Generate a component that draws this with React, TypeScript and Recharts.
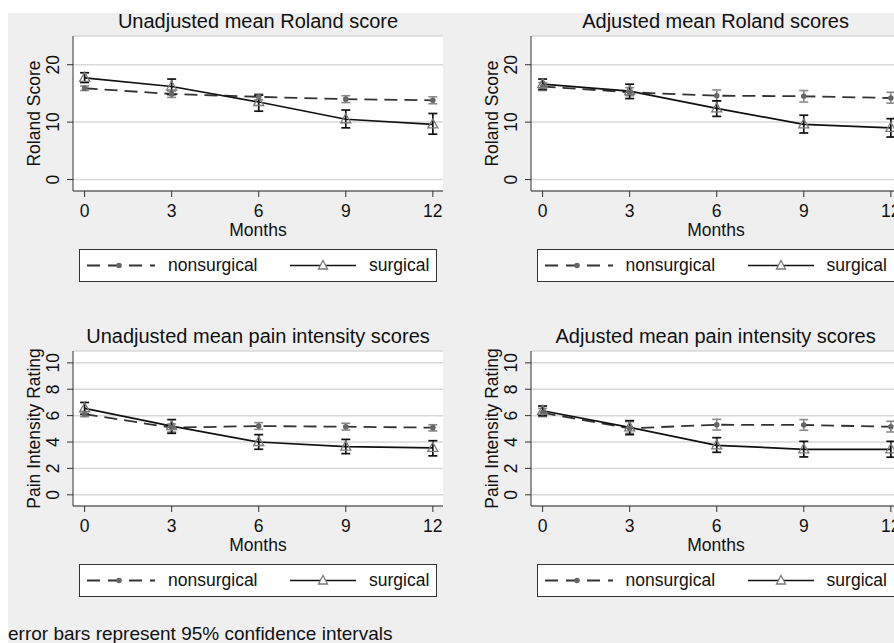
import React from "react";
import { CartesianGrid, ErrorBar, Line, LineChart, XAxis, YAxis } from "recharts";

const months = [0, 3, 6, 9, 12];
const monthTicks = [0, 3, 6, 9, 12];
const rolandTicks = [0, 10, 20];
const painTicks = [0, 2, 4, 6, 8, 10];

// Unadjusted Roland score
const rolUnNon = [15.9, 14.9, 14.4, 14.0, 13.8];
const rolUnNonLo = [15.5, 14.3, 13.9, 13.4, 13.2];
const rolUnNonHi = [16.3, 15.4, 14.9, 14.6, 14.4];
const rolUnSur = [17.7, 16.2, 13.5, 10.5, 9.6];
const rolUnSurLo = [16.9, 14.8, 11.9, 9.0, 7.9];
const rolUnSurHi = [18.6, 17.5, 14.7, 12.1, 11.5];

// Adjusted Roland scores
const rolAdNon = [16.2, 15.2, 14.6, 14.5, 14.2];
const rolAdNonLo = [15.5, 14.6, 13.7, 13.5, 13.3];
const rolAdNonHi = [16.9, 16.0, 15.6, 15.5, 15.2];
const rolAdSur = [16.6, 15.4, 12.4, 9.6, 9.0];
const rolAdSurLo = [15.7, 14.1, 11.0, 8.1, 7.4];
const rolAdSurHi = [17.5, 16.6, 13.7, 11.2, 10.6];

// Unadjusted pain intensity
const painUnNon = [6.12, 5.09, 5.21, 5.16, 5.09];
const painUnNonLo = [5.92, 4.76, 4.96, 4.91, 4.84];
const painUnNonHi = [6.32, 5.37, 5.47, 5.42, 5.31];
const painUnSur = [6.55, 5.2, 4.0, 3.65, 3.55];
const painUnSurLo = [6.1, 4.66, 3.45, 3.12, 2.95];
const painUnSurHi = [7.0, 5.7, 4.56, 4.2, 4.1];

// Adjusted pain intensity
const painAdNon = [6.22, 5.04, 5.31, 5.29, 5.16];
const painAdNonLo = [5.92, 4.66, 4.91, 4.89, 4.76];
const painAdNonHi = [6.55, 5.54, 5.72, 5.7, 5.57];
const painAdSur = [6.37, 5.11, 3.75, 3.45, 3.45];
const painAdSurLo = [6.0, 4.56, 3.22, 2.87, 2.85];
const painAdSurHi = [6.73, 5.62, 4.33, 4.05, 4.05];

const FONT = '"Liberation Sans", Arial, Helvetica, sans-serif';
const TEXT = "#111";

function buildRows(
  non: number[], nonLo: number[], nonHi: number[],
  sur: number[], surLo: number[], surHi: number[]
) {
  return months.map((m, i) => ({
    month: m,
    nonsurgical: non[i],
    nonErr: [non[i] - nonLo[i], nonHi[i] - non[i]],
    surgical: sur[i],
    surErr: [sur[i] - surLo[i], surHi[i] - sur[i]],
  }));
}

const YTick = (p: any) => (
  <text
    x={p.x}
    y={p.y}
    transform={`rotate(-90 ${p.x} ${p.y})`}
    textAnchor="middle"
    fontSize={17.5}
    fill={TEXT}
  >
    {p.payload.value}
  </text>
);

const TriangleDot = (p: any) => {
  const { cx, cy, index } = p;
  if (cx == null || cy == null) return <g key={index} />;
  return (
    <path
      key={index}
      d={`M${cx},${cy - 5.5} L${cx + 5},${cy + 3.5} L${cx - 5},${cy + 3.5} Z`}
      fill="none"
      stroke="#7a7a7a"
      strokeWidth={1.3}
    />
  );
};

function LegendBox() {
  return (
    <div
      style={{
        position: "absolute", left: 71, top: 236, width: 358, height: 33,
        border: "1px solid #333", background: "#fff", boxSizing: "border-box",
      }}
    >
      <svg width={68} height={31} style={{ position: "absolute", left: 7, top: 0 }}>
        <line x1={0} y1={15.5} x2={68} y2={15.5} stroke="#333" strokeWidth={1.8} strokeDasharray="13 8" />
        <circle cx={32} cy={15.5} r={2.8} fill="#666" />
      </svg>
      <span style={{ position: "absolute", left: 88, top: 0, lineHeight: "31px", fontSize: 17.5, color: TEXT }}>
        nonsurgical
      </span>
      <svg width={66} height={31} style={{ position: "absolute", left: 210, top: 0 }}>
        <line x1={0} y1={15.5} x2={66} y2={15.5} stroke="#111" strokeWidth={1.6} />
        <path d="M33,10.5 L37.5,19 L28.5,19 Z" fill="#fff" stroke="#7a7a7a" strokeWidth={1.3} />
      </svg>
      <span style={{ position: "absolute", left: 289, top: 0, lineHeight: "31px", fontSize: 17.5, color: TEXT }}>
        surgical
      </span>
    </div>
  );
}

type PanelProps = {
  title: string;
  yLabel: string;
  yDomain: [number, number];
  yTicks: number[];
  rows: ReturnType<typeof buildRows>;
  left: number;
  top: number;
};

function Panel({ title, yLabel, yDomain, yTicks, rows, left, top }: PanelProps) {
  return (
    <div style={{ position: "absolute", left, top, width: 450, height: 315 }}>
      <div
        style={{
          position: "absolute", left: 250, top: 0, transform: "translateX(-50%)",
          whiteSpace: "nowrap", fontSize: 20, lineHeight: "16px", color: TEXT,
        }}
      >
        {title}
      </div>
      <LineChart width={450} height={315} data={rows} margin={{ top: 23, right: 15, bottom: 87, left: 0 }}>
        <CartesianGrid vertical={false} fill="#fff" stroke="#d9d9d9" strokeWidth={1.5} />
        <XAxis
          dataKey="month"
          type="number"
          domain={[-0.4, 12.35]}
          ticks={monthTicks}
          interval={0}
          allowDataOverflow
          height={50}
          tickSize={6}
          tickMargin={8}
          stroke="#333"
          tick={{ fontSize: 17.5, fill: TEXT }}
          label={{ value: "Months", position: "insideBottom", offset: 5.5, fontSize: 17.5, fill: TEXT }}
        />
        <YAxis
          type="number"
          domain={yDomain}
          ticks={yTicks}
          interval={0}
          allowDataOverflow
          width={65}
          tickSize={6}
          tickMargin={8}
          stroke="#333"
          tick={YTick}
          label={{
            content: (props: any) => {
              const vb = props.viewBox || { x: 0, y: 23, height: 155 };
              const x = vb.x + 31.5;
              const y = vb.y + vb.height / 2;
              return (
                <text x={x} y={y} transform={`rotate(-90 ${x} ${y})`} textAnchor="middle" fontSize={17.5} fill={TEXT}>
                  {yLabel}
                </text>
              );
            },
          }}
        />
        <Line
          dataKey="nonsurgical"
          stroke="#333"
          strokeWidth={1.8}
          strokeDasharray="13 7"
          dot={{ r: 2.8, fill: "#666", stroke: "#666", strokeWidth: 0 }}
          activeDot={false}
          isAnimationActive={false}
        >
          <ErrorBar dataKey="nonErr" direction="y" width={4.5} stroke="#8a8a8a" strokeWidth={1.6} />
        </Line>
        <Line
          dataKey="surgical"
          stroke="#111"
          strokeWidth={1.7}
          dot={TriangleDot}
          activeDot={false}
          isAnimationActive={false}
        >
          <ErrorBar dataKey="surErr" direction="y" width={4.5} stroke="#111" strokeWidth={1.7} />
        </Line>
      </LineChart>
      <LegendBox />
    </div>
  );
}

export default function App() {
  const rolUn = buildRows(rolUnNon, rolUnNonLo, rolUnNonHi, rolUnSur, rolUnSurLo, rolUnSurHi);
  const rolAd = buildRows(rolAdNon, rolAdNonLo, rolAdNonHi, rolAdSur, rolAdSurLo, rolAdSurHi);
  const painUn = buildRows(painUnNon, painUnNonLo, painUnNonHi, painUnSur, painUnSurLo, painUnSurHi);
  const painAd = buildRows(painAdNon, painAdNonLo, painAdNonHi, painAdSur, painAdSurLo, painAdSurHi);

  return (
    <div
      style={{
        position: "fixed", left: 0, top: 0, width: 894, height: 643,
        background: "#fff", overflow: "hidden", fontFamily: FONT,
      }}
    >
      <div
        style={{
          position: "absolute", left: 8, top: 13, width: 886, height: 630,
          background: "#efefef",
        }}
      >
        <Panel title="Unadjusted mean Roland score" yLabel="Roland Score" yDomain={[-2, 25]} yTicks={rolandTicks} rows={rolUn} left={0} top={0} />
        <Panel title="Adjusted mean Roland scores" yLabel="Roland Score" yDomain={[-2, 25]} yTicks={rolandTicks} rows={rolAd} left={457.6} top={0} />
        <Panel title="Unadjusted mean pain intensity scores" yLabel="Pain Intensity Rating" yDomain={[-0.85, 10.9]} yTicks={painTicks} rows={painUn} left={0} top={315} />
        <Panel title="Adjusted mean pain intensity scores" yLabel="Pain Intensity Rating" yDomain={[-0.85, 10.9]} yTicks={painTicks} rows={painAd} left={457.6} top={315} />
        <div style={{ position: "absolute", left: 0, top: 611, fontSize: 19, lineHeight: "19px", color: TEXT, whiteSpace: "nowrap" }}>
          error bars represent 95% confidence intervals
        </div>
      </div>
    </div>
  );
}
